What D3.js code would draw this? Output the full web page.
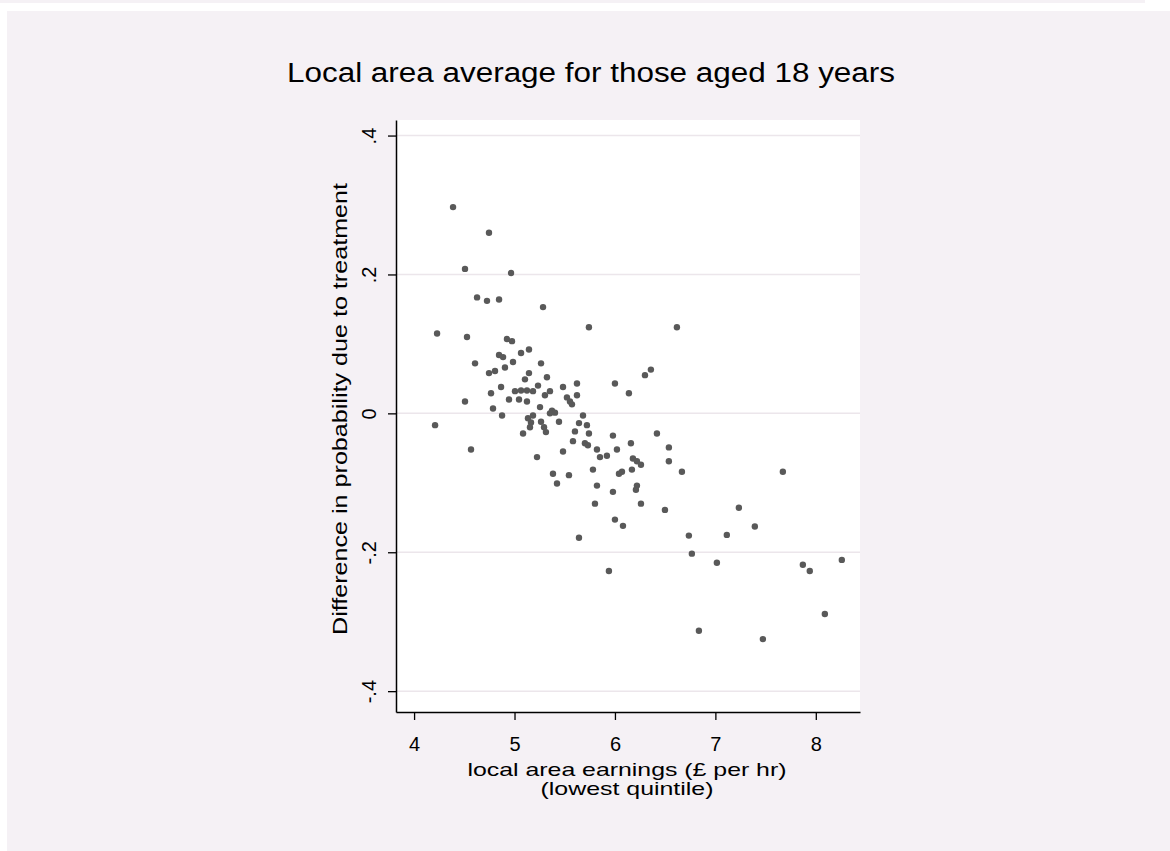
<!DOCTYPE html>
<html><head><meta charset="utf-8">
<script src="https://cdn.jsdelivr.net/npm/d3@7"></script>
<style>html,body{margin:0;padding:0;background:#fff;overflow:hidden}</style>
</head><body>
<script>
const titleText = "Local area average for those aged 18 years";
const xTitle1 = "local area earnings (£ per hr)";
const xTitle2 = "(lowest quintile)";
const yTitle = "Difference in probability due to treatment";
const xTicks = [4,5,6,7,8];
const yTicks = [-0.4,-0.2,0,0.2,0.4];
const yTickLabels = ["-.4","-.2","0",".2",".4"];
const earnings = [4.388,4.746,4.507,4.965,4.627,4.726,4.846,5.284,4.229,4.527,4.925,4.975,5.065,5.144,4.607,4.846,4.886,4.905,4.985,4.746,4.806,5.264,5.104,5.144,5.323,4.766,4.866,5.005,5.065,5.124,5.184,5.234,5.303,5.353,5.483,5.622,4.945,5.045,5.124,5.522,5.552,5.572,5.622,4.786,4.876,5.254,5.373,5.403,5.353,5.134,5.164,5.184,5.154,5.264,5.294,5.313,5.085,5.443,5.682,5.642,5.721,5.602,5.741,5.980,6.418,5.582,5.701,5.731,5.483,5.821,5.851,5.920,6.020,6.159,6.537,5.224,6.179,6.219,6.259,6.537,5.781,6.070,6.040,6.169,6.667,5.383,5.542,5.423,5.821,6.219,6.209,5.980,5.801,6.259,6.498,6.000,6.080,5.642,6.736,6.766,5.940,5.741,6.617,6.000,6.139,6.299,6.358,4.507,4.209,4.567,7.672,7.234,7.393,7.114,7.015,7.871,7.940,8.259,8.090,6.836,7.473];
const diffProb = [0.297,0.260,0.208,0.202,0.167,0.162,0.164,0.153,0.115,0.110,0.107,0.104,0.087,0.092,0.072,0.084,0.081,0.066,0.074,0.058,0.061,0.072,0.049,0.058,0.052,0.029,0.038,0.032,0.033,0.033,0.032,0.040,0.026,0.032,0.038,0.043,0.020,0.020,0.017,0.023,0.017,0.013,0.026,0.007,-0.003,0.009,0.004,0.001,0.000,-0.007,-0.013,-0.003,-0.020,-0.012,-0.020,-0.027,-0.029,-0.012,-0.003,-0.014,-0.017,-0.026,-0.029,-0.032,-0.029,-0.040,-0.043,-0.046,-0.055,-0.052,-0.063,-0.061,-0.052,-0.043,-0.049,-0.063,-0.065,-0.069,-0.074,-0.069,-0.081,-0.084,-0.087,-0.081,-0.084,-0.087,-0.089,-0.101,-0.104,-0.104,-0.110,-0.113,-0.130,-0.130,-0.139,-0.153,-0.162,-0.179,-0.176,-0.202,-0.227,0.124,0.124,0.043,0.029,0.055,0.063,0.017,-0.017,-0.052,-0.084,-0.136,-0.163,-0.175,-0.215,-0.218,-0.227,-0.211,-0.289,-0.313,-0.325];

(function(){
const W = 1170, H = 851;
const svg = d3.select("body").append("svg").attr("width", W).attr("height", H);
const font = "'Liberation Sans', Arial, sans-serif";

svg.append("rect").attr("x",0).attr("y",0).attr("width",1145).attr("height",3).attr("fill","#f5f1f5");
svg.append("rect").attr("x",7).attr("y",11).attr("width",W-7).attr("height",H-11).attr("fill","#f5f1f5");

const pL = 396, pR = 860, pT = 120, pB = 712;
const x = d3.scaleLinear().domain([3.82, 8.44]).range([pL, pR]);
const y = d3.scaleLinear().domain([-0.43, 0.4224]).range([pB, pT]);

svg.append("rect").attr("x",pL).attr("y",pT).attr("width",pR-pL).attr("height",pB-pT).attr("fill","#ffffff");

svg.append("g").selectAll("line").data(yTicks).join("line")
  .attr("x1",pL).attr("x2",pR).attr("y1",d=>y(d)).attr("y2",d=>y(d))
  .attr("stroke","#ece6eb").attr("stroke-width",1.5);

svg.append("g").selectAll("circle").data(earnings.map((e,i)=>[e,diffProb[i]])).join("circle")
  .attr("cx",d=>x(d[0])).attr("cy",d=>y(d[1])).attr("r",3.2).attr("fill","#595959");

const xAxis = svg.append("g").attr("transform",`translate(0,${pB})`)
  .call(d3.axisBottom(x).tickValues(xTicks).tickFormat(d3.format("d")).tickSize(8).tickSizeOuter(0).tickPadding(17));
xAxis.select(".domain").attr("stroke","#000").attr("stroke-width",1.5);
xAxis.selectAll(".tick line").attr("stroke","#000").attr("stroke-width",1.3);
xAxis.selectAll(".tick text").attr("font-family",font).attr("font-size",20).attr("fill","#000");

const yAxis = svg.append("g").attr("transform",`translate(${pL},0)`)
  .call(d3.axisLeft(y).tickValues(yTicks).tickFormat((d,i)=>yTickLabels[i]).tickSize(8).tickSizeOuter(0));
yAxis.select(".domain").attr("stroke","#000").attr("stroke-width",1.5);
yAxis.selectAll(".tick line").attr("stroke","#000").attr("stroke-width",1.3);
yAxis.selectAll(".tick text").attr("font-family",font).attr("font-size",20).attr("fill","#000")
  .attr("x",null).attr("dy",null)
  .attr("transform","translate(-20,0) rotate(-90)").attr("text-anchor","middle").attr("y",0);

svg.append("text").attr("x",591).attr("y",82).attr("text-anchor","middle")
  .attr("font-family",font).attr("font-size",27).attr("fill","#000")
  .attr("textLength",608).attr("lengthAdjust","spacingAndGlyphs").text(titleText);

svg.append("text").attr("x",627).attr("y",776).attr("text-anchor","middle")
  .attr("font-family",font).attr("font-size",18.5).attr("fill","#000")
  .attr("textLength",319).attr("lengthAdjust","spacingAndGlyphs").text(xTitle1);
svg.append("text").attr("x",627).attr("y",795).attr("text-anchor","middle")
  .attr("font-family",font).attr("font-size",18.5).attr("fill","#000")
  .attr("textLength",173).attr("lengthAdjust","spacingAndGlyphs").text(xTitle2);

svg.append("text").attr("transform","translate(347,409) rotate(-90)").attr("text-anchor","middle")
  .attr("font-family",font).attr("font-size",19.5).attr("fill","#000")
  .attr("textLength",452).attr("lengthAdjust","spacingAndGlyphs").text(yTitle);
})();
</script>
</body></html>
